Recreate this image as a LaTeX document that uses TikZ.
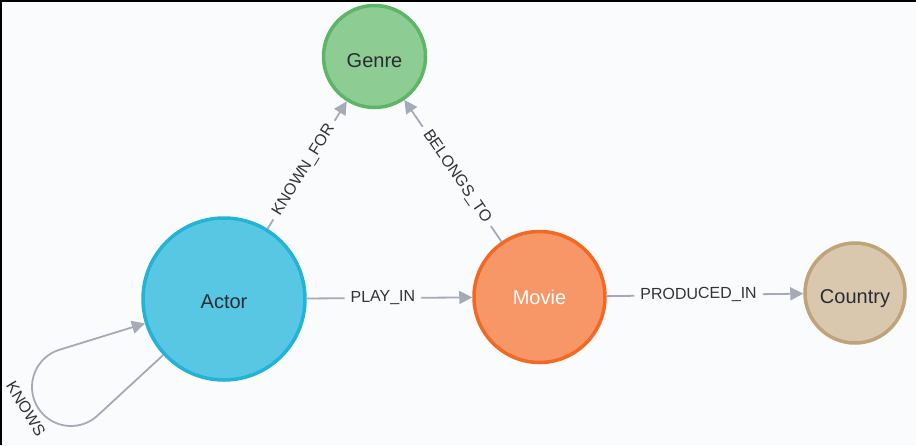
\documentclass[tikz,border=0pt]{standalone}
\usepackage{fontspec}
\setmainfont{Liberation Sans}
\usetikzlibrary{arrows.meta,calc}
\definecolor{bg}{HTML}{F9FBFD}
\definecolor{edgec}{HTML}{A5ABB6}
\definecolor{nodetext}{HTML}{2A2C34}
\definecolor{lbltext}{HTML}{333333}
\definecolor{genreF}{HTML}{8DCC93}
\definecolor{genreD}{HTML}{5DB665}
\definecolor{actorF}{HTML}{57C7E3}
\definecolor{actorD}{HTML}{23B3D7}
\definecolor{movieF}{HTML}{F79767}
\definecolor{movieD}{HTML}{F36924}
\definecolor{countryF}{HTML}{D9C8AE}
\definecolor{countryD}{HTML}{C0A378}
\begin{document}
\begin{tikzpicture}[x=1pt,y=-1pt,
  nd/.style={circle, line width=3.5pt, inner sep=0pt, font=\fontsize{20}{24}\selectfont, text=nodetext, text depth=0pt},
  edge/.style={draw=edgec, line width=1.8pt, -{Triangle[length=13pt,width=13pt]}},
  lbl/.style={fill=bg, sloped, font=\fontsize{16}{19}\selectfont, text=lbltext, inner xsep=6pt, inner ysep=1pt}]
\fill[bg] (0,0) rectangle (916,445);
\useasboundingbox (0,0) rectangle (916,445);
\fill[black] (0,0) rectangle (916,2);
\fill[black] (0,0) rectangle (2,445);

\node[nd, fill=genreF, draw=genreD, minimum size=102pt, text height=21.3pt] (genre) at (374.5,56.5) {Genre};
\node[nd, fill=actorF, draw=actorD, minimum size=162pt, text height=18.3pt] (actor) at (224,299) {Actor};
\node[nd, fill=movieF, draw=movieD, minimum size=131pt, text=white, text height=14.3pt] (movie) at (539.5,297) {Movie};
\node[nd, fill=countryF, draw=countryD, minimum size=100pt, text height=20.3pt] (country) at (855,293) {Country};
\coordinate (lc) at (71,387);

\draw[edge] (actor) -- node[lbl, pos=0.46] {PLAY\_IN} (movie);
\draw[edge] (movie) -- node[lbl, pos=0.467] {PRODUCED\_IN} (country);
\draw[edge] (actor) -- node[lbl, pos=0.46] {KNOWN\_FOR} (genre);
\draw[edge] (movie) -- node[lbl, pos=0.46] {BELONGS\_TO} (genre);
\draw[edge] (actor) -- ($(lc)+(47.3:39)$) arc[start angle=47.3, end angle=252.9, radius=39] -- (actor);
\node[font=\fontsize{16}{19}\selectfont, text=lbltext, rotate=-59, inner sep=1pt] (knows) at (26,409) {KNOWS};
\end{tikzpicture}
\end{document}
